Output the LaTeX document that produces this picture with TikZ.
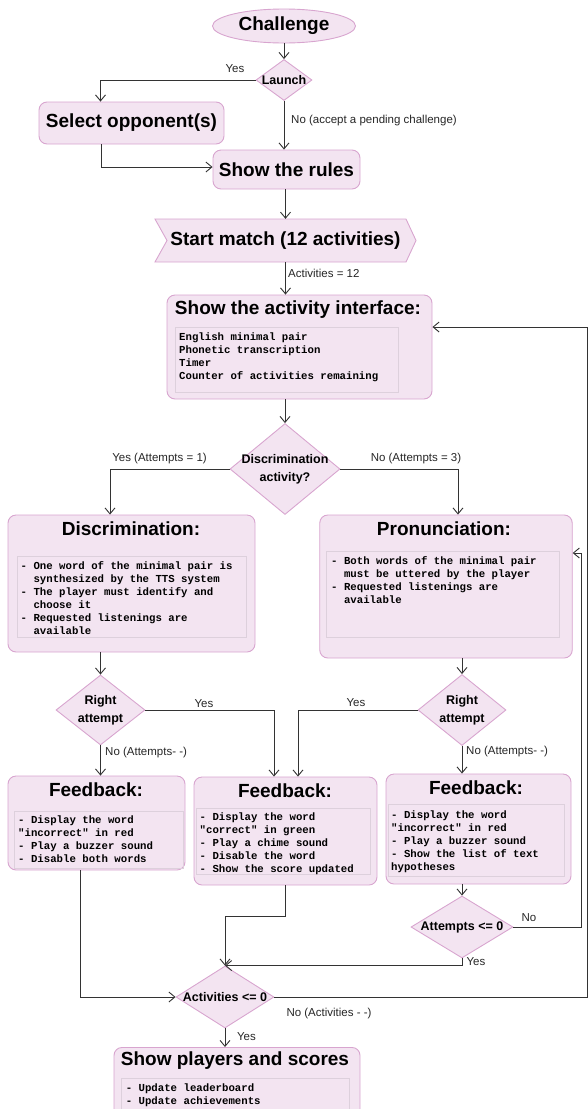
\documentclass[tikz,border=0pt]{standalone}
\usepackage{fontspec}
\setmainfont{Liberation Sans}
\newfontfamily\monof{Liberation Mono}
\usetikzlibrary{shapes.geometric,arrows.meta}
\definecolor{fillc}{HTML}{F3E4F1}
\definecolor{bord}{HTML}{D8A5CF}
\definecolor{ibord}{HTML}{DDD0DC}
\definecolor{linec}{HTML}{333333}
\newcommand\ind{\hphantom{xx}}
\newcommand\ttlfont{\fontsize{19}{22}\selectfont\bfseries}
\begin{document}
\begin{tikzpicture}[x=1pt,y=-1pt,
 box/.style={draw=bord, fill=fillc, line width=0.9pt, rounded corners=8pt, inner sep=0pt},
 ttl/.style={font=\ttlfont, inner sep=0pt},
 dia/.style={diamond, draw=bord, fill=fillc, line width=0.9pt, inner sep=0pt, aspect=1},
 dtxt/.style={font=\fontsize{12.5}{18}\selectfont\bfseries, align=center, inner sep=0pt},
 inbox/.style={draw=ibord, line width=0.7pt},
 mono/.style={font=\fontsize{10.7}{12.9}\selectfont\monof\bfseries, align=left, inner sep=0pt, anchor=north west},
 lbl/.style={font=\fontsize{11.5}{13}\selectfont, inner sep=0pt, text=black!85},
 arr/.style={draw=linec, line width=0.9pt, -{Straight Barb[length=6pt,width=10pt]}},
]
\useasboundingbox (0,0) rectangle (588,1109);
\clip (0,0) rectangle (588,1109);

% nodes
\node[ellipse, draw=bord, fill=fillc, line width=0.9pt, minimum width=143pt, minimum height=34pt, inner sep=0pt, font=\ttlfont] (chal) at (284,26) {Challenge};
\node[dia, minimum width=56pt, minimum height=41pt] (launch) at (284,80) {};
\node[dtxt] at (launch) {Launch};
\node[box, minimum width=185pt, minimum height=42pt, font=\ttlfont] (sel) at (131.5,123) {Select opponent(s)};
\node[box, minimum width=147pt, minimum height=39pt, font=\ttlfont] (rules) at (286.5,169.5) {Show the rules};
\path[draw=bord, fill=fillc, line width=0.9pt] (155,219) -- (406,219) -- (416,240.5) -- (406,262) -- (155,262) -- (167,240.5) -- cycle;
\node[minimum width=261pt, minimum height=43pt, inner sep=0pt, font=\ttlfont] (start) at (285.5,240.5) {Start match (12 activities)};

\node[box, minimum width=265pt, minimum height=104pt] (act) at (299.5,347) {};
\node[ttl] at (298,310) {Show the activity interface:};
\draw[inbox] (175,327) rectangle (398,392);
\node[mono] at (179,332.5) {English minimal pair\\Phonetic transcription\\Timer\\Counter of activities remaining};

\node[dia, minimum width=110pt, minimum height=91pt] (discdia) at (285,469) {};
\node[dtxt] at (discdia) {Discrimination\\activity?};

\node[box, minimum width=247pt, minimum height=137pt] (disc) at (131.5,583.5) {};
\node[ttl] at (131,529) {Discrimination:};
\draw[inbox] (17,556) rectangle (246,637);
\node[mono] at (20.5,561.5) {- One word of the minimal pair is\\\ind synthesized by the TTS system\\- The player must identify and\\\ind choose it\\- Requested listenings are\\\ind available};

\node[box, minimum width=252.5pt, minimum height=143pt] (pron) at (446,586.5) {};
\node[ttl] at (444,529) {Pronunciation:};
\draw[inbox] (326,551) rectangle (559,637);
\node[mono] at (331,556.5) {- Both words of the minimal pair\\\ind must be uttered by the player\\- Requested listenings are\\\ind available};

\node[dia, minimum width=89pt, minimum height=70pt] (ra1) at (100.5,710) {};
\node[dtxt] at (ra1) {Right\\attempt};
\node[dia, minimum width=88pt, minimum height=71pt] (ra2) at (462,710) {};
\node[dtxt] at (ra2) {Right\\attempt};

\node[box, minimum width=177pt, minimum height=94pt] (fbl) at (96.5,823) {};
\node[ttl] at (96,790) {Feedback:};
\draw[inbox] (14,811) rectangle (183,868);
\node[mono] at (18,815.5) {- Display the word\\"incorrect" in red\\- Play a buzzer sound\\- Disable both words};

\node[box, minimum width=183pt, minimum height=108pt] (fbm) at (285.5,831) {};
\node[ttl] at (285,791) {Feedback:};
\draw[inbox] (196.5,808) rectangle (370.5,874);
\node[mono] at (199.5,812.5) {- Display the word\\"correct" in green\\- Play a chime sound\\- Disable the word\\- Show the score updated};

\node[box, minimum width=185pt, minimum height=110pt] (fbr) at (478.5,829) {};
\node[ttl] at (476,788) {Feedback:};
\draw[inbox] (388,804) rectangle (564,876);
\node[mono] at (391,810.5) {- Display the word\\"incorrect" in red\\- Play a buzzer sound\\- Show the list of text\\hypotheses};

\node[dia, minimum width=102pt, minimum height=62pt] (attd) at (462,927) {};
\node[dtxt] at (attd) {Attempts <= 0};

\node[dia, minimum width=98pt, minimum height=62pt] (actd) at (225,997) {};
\node[dtxt] at (actd) {Activities <= 0};

\node[box, minimum width=246pt, minimum height=80pt, anchor=north] (play) at (237,1047) {};
\node[ttl] at (235,1061) {Show players and scores};
\draw[inbox] (121,1078) rectangle (349.5,1125);
\node[mono] at (125.6,1083.5) {- Update leaderboard\\- Update achievements};

% connectors
\coordinate (edgeR) at (581,0);
\coordinate (edgeF) at (587,0);
\draw[arr] (chal.south) -- (launch.north);
\draw[arr] (launch.west) -| ([xshift=-31pt]sel.north);
\draw[arr] (launch.south) -- (launch.south |- rules.north);
\draw[arr] ([xshift=-30.5pt]sel.south) |- ([yshift=2.5pt]rules.west);
\draw[arr] (start.north |- rules.south) -- (start.north);
\draw[arr] (start.south) -- (start.south |- act.north);
\draw[arr] (discdia.north |- act.south) -- (discdia.north);
\draw[arr] (discdia.west) -| ([xshift=-21.5pt]disc.north);
\draw[arr] (discdia.east) -| ([xshift=12pt]pron.north);
\draw[arr] (ra1.north |- disc.south) -- (ra1.north);
\draw[arr] (ra2.north |- pron.south) -- (ra2.north);
\draw[arr] (ra1.east) -| ([xshift=-11.5pt]fbm.north);
\draw[arr] (ra2.west) -| ([xshift=12.5pt]fbm.north);
\draw[arr] (ra1.south) -- (ra1.south |- fbl.north);
\draw[arr] (ra2.south) -- (ra2.south |- fbr.north);
\draw[arr] ([xshift=-16.5pt]fbl.south) |- (actd.west);
\draw[arr] (fbm.south) -- ++(0,31) -| (actd.north);
\draw[arr] (attd.north |- fbr.south) -- (attd.north);
\draw[arr] (attd.east) -- (attd.east -| edgeR) |- ([yshift=33.5pt]pron.east);
\draw[arr] (attd.south) |- (actd.north);
\draw[arr] (actd.east) -- (actd.east -| edgeF) |- ([yshift=20pt]act.east);
\draw[arr] (actd.south) -- (actd.south |- play.north);

% labels
\node[lbl] at (235,69) {Yes};
\node[lbl, anchor=west] at (291,121) {No (accept a pending challenge)};
\node[lbl, anchor=west] at (288,273) {Activities = 12};
\node[lbl] at (159.5,459) {Yes (Attempts = 1)};
\node[lbl] at (416,459) {No (Attempts = 3)};
\node[lbl] at (204,704) {Yes};
\node[lbl] at (356,703) {Yes};
\node[lbl, anchor=west] at (105,753) {No (Attempts- -)};
\node[lbl, anchor=west] at (466,752) {No (Attempts- -)};
\node[lbl] at (529,918) {No};
\node[lbl] at (476,962) {Yes};
\node[lbl] at (329,1014) {No (Activities - -)};
\node[lbl] at (246.5,1037) {Yes};
\end{tikzpicture}
\end{document}
